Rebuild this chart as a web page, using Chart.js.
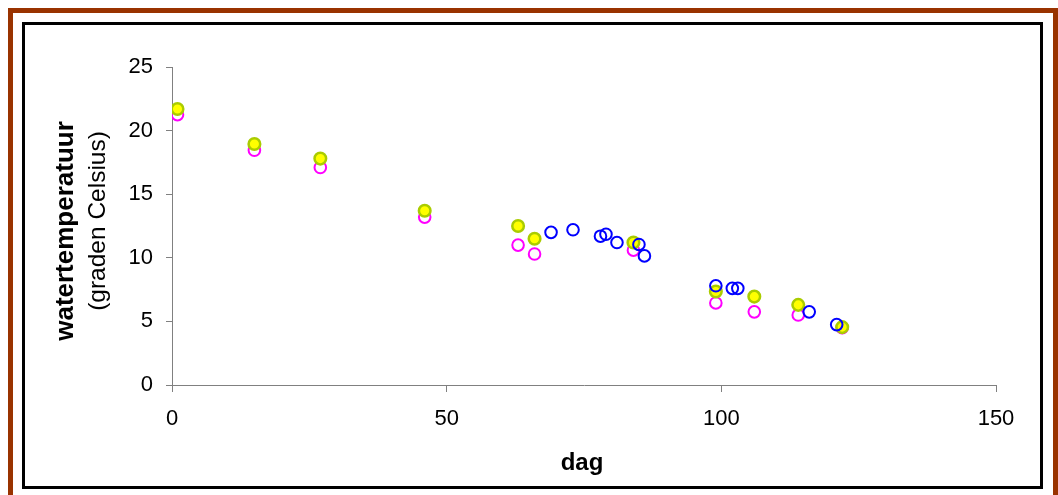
<!DOCTYPE html>
<html>
<head>
<meta charset="utf-8">
<script src="https://cdn.jsdelivr.net/npm/chart.js@4"></script>
<style>
  body { margin: 0; background: #fff; width: 1058px; height: 495px; overflow: hidden; position: relative; }
  #frame { position: absolute; left: 8px; top: 8px; width: 1040px; height: 500px; border: 5px solid #993300; }
  #box { position: absolute; left: 22px; top: 22px; width: 1015px; height: 461px; border: 3px solid #000; }
  canvas { position: absolute; left: 0; top: 0; }
</style>
</head>
<body>
<div id="frame"></div>
<div id="box"></div>
<canvas id="myChart" width="1058" height="495"></canvas>
<script>
// dag, watertemperatuur per reeks
var dagMagenta = [1, 15, 27, 46, 63, 66, 84, 99, 106, 114, 122];
var tempMagenta = [21.25, 18.45, 17.1, 13.2, 11.0, 10.3, 10.6, 6.45, 5.75, 5.5, 4.5];

var dagGeel = [1, 15, 27, 46, 63, 66, 84, 99, 106, 114, 122];
var tempGeel = [21.7, 18.95, 17.8, 13.7, 12.5, 11.5, 11.2, 7.35, 6.95, 6.3, 4.55];

var dagBlauw = [69, 73, 78, 79, 81, 85, 86, 99, 102, 103, 116, 121];
var tempBlauw = [12.0, 12.2, 11.7, 11.85, 11.2, 11.05, 10.15, 7.8, 7.6, 7.6, 5.75, 4.75];

var yTicks = [0, 5, 10, 15, 20, 25];
var xTicks = [0, 50, 100, 150];

function punten(xs, ys) {
  return xs.map(function (x, i) { return { x: x, y: ys[i] }; });
}

var font = "'Liberation Sans', Arial, sans-serif";

var titles = {
  id: "titles",
  afterDraw: function (chart) {
    var c = chart.ctx;
    var a = chart.chartArea;
    c.save();
    c.fillStyle = "#000";
    c.textAlign = "center";
    c.textBaseline = "middle";
    c.font = "bold 24px " + font;
    c.fillText("dag", (a.left + a.right) / 2 - 2, a.bottom + 78);
    c.translate(66, (a.top + a.bottom) / 2 + 5);
    c.rotate(-Math.PI / 2);
    c.font = "bold 26px " + font;
    c.fillText("watertemperatuur", 0, 0);
    c.font = "24.5px " + font;
    c.fillText("(graden Celsius)", 10, 32);
    c.restore();
  },
};

var ctx = document.getElementById("myChart").getContext("2d");
var myChart = new Chart(ctx, {
  type: "scatter",
  data: {
    datasets: [
      {
        label: "blauw",
        data: punten(dagBlauw, tempBlauw),
        backgroundColor: "rgba(0,0,0,0)",
        borderColor: "#0000FF",
        borderWidth: 2,
        pointRadius: 5.8,
      },
      {
        label: "geel",
        data: punten(dagGeel, tempGeel),
        backgroundColor: "#FFFF00",
        borderColor: "#AACC00",
        borderWidth: 2.5,
        pointRadius: 5.8,
      },
      {
        label: "magenta",
        data: punten(dagMagenta, tempMagenta),
        backgroundColor: "rgba(0,0,0,0)",
        borderColor: "#FF00FF",
        borderWidth: 2,
        pointRadius: 5.8,
      },
    ],
  },
  options: {
    responsive: false,
    animation: false,
    events: [],
    layout: {
      padding: { left: 0, top: 67, right: 62, bottom: 0 },
    },
    plugins: {
      legend: { display: false },
      tooltip: { enabled: false },
    },
    scales: {
      x: {
        type: "linear",
        min: 0,
        max: 150,
        afterBuildTicks: function (scale) {
          scale.ticks = xTicks.map(function (v) { return { value: v }; });
        },
        afterFit: function (scale) {
          scale.height = 110;
        },
        grid: { drawOnChartArea: false, color: "#808080", tickLength: 7 },
        border: { color: "#808080", width: 1 },
        ticks: { color: "#000", padding: 14, maxRotation: 0, font: { family: font, size: 22 } },
      },
      y: {
        type: "linear",
        min: 0,
        max: 25,
        afterBuildTicks: function (scale) {
          scale.ticks = yTicks.map(function (v) { return { value: v }; });
        },
        afterFit: function (scale) {
          scale.width = 172;
        },
        grid: { drawOnChartArea: false, color: "#808080", tickLength: 6 },
        border: { color: "#808080", width: 1 },
        ticks: { color: "#000", padding: 13, font: { family: font, size: 22 } },
      },
    },
  },
  plugins: [titles],
});
</script>
</body>
</html>
